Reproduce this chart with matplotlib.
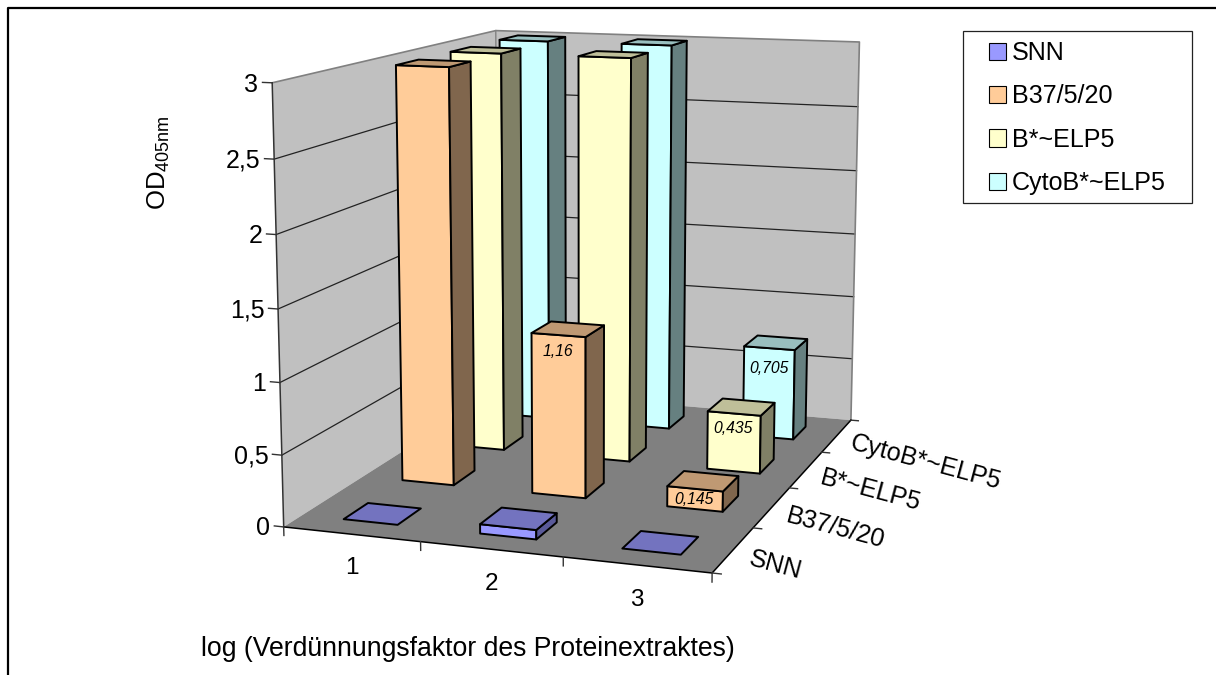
import numpy as np
import matplotlib
matplotlib.use("Agg")
import matplotlib.pyplot as plt
from matplotlib.patches import Patch, Rectangle
from matplotlib.lines import Line2D
from mpl_toolkits.mplot3d import proj3d
from mpl_toolkits.mplot3d.art3d import Poly3DCollection

plt.rcParams["font.family"] = ["Liberation Sans", "DejaVu Sans"]
plt.rcParams["mathtext.fontset"] = "custom"
plt.rcParams["mathtext.rm"] = "Liberation Sans"

categories = ["1", "2", "3"]
series = ["SNN", "B37/5/20", "B*~ELP5", "CytoB*~ELP5"]
snn = [0, 0.065, 0]
b37 = [3, 1.16, 0.145]
belp = [3, 3, 0.435]
cyto = [3, 3, 0.705]
z_ticks = [0, 0.5, 1, 1.5, 2, 2.5, 3]
z_labels = ["0", "0,5", "1", "1,5", "2", "2,5", "3"]
bar_labels = {(1, 1): "1,16", (1, 2): "0,145", (2, 2): "0,435", (3, 2): "0,705"}

front_cols = ["#9999FF", "#FFCC99", "#FFFFCC", "#CCFFFF"]
top_cols = ["#7373BF", "#BF9973", "#BFBF99", "#99BFBF"]
side_cols = ["#5A5A99", "#80664D", "#808066", "#668080"]

W, H = 1216, 675
fig = plt.figure(figsize=(W / 100, H / 100), dpi=100)

# camera fitted to the frame corners of the reference
side = 785.98
cx, cy = 579.99, 395.98
ax = fig.add_axes([(cx - side / 2) / W, (cy - side / 2) / H, side / W, side / H],
                  projection="3d", computed_zorder=False)
ax.set_xlim(0, 3, view_margin=0)
ax.set_ylim(0, 4, view_margin=0)
ax.set_zlim(0, 3, view_margin=0)
ax.set_axis_off()
ax.patch.set_alpha(0)
ax.set_proj_type("persp", focal_length=0.5445)
ax.view_init(10.9616, -71.1495, -0.0220)
ax.set_box_aspect((0.9987, 1.3383, 1))
M = ax.get_proj()


def label(x, y, z, text, **kw):
    px, py, _ = proj3d.proj_transform(x, y, z, M)
    ax.text2D(px, py, text, transform=ax.transData, **kw)


def face(pts, color, order, **kw):
    ax.add_collection3d(Poly3DCollection([pts], facecolor=color, zorder=order, **kw), autolim=False)


# walls and floor
face([(0, 0, 0), (0, 4, 0), (0, 4, 3), (0, 0, 3)], "#C0C0C0", 1, edgecolor="none")
face([(0, 4, 0), (3, 4, 0), (3, 4, 3), (0, 4, 3)], "#C0C0C0", 1, edgecolor="none")
face([(0, 0, 0), (3, 0, 0), (3, 4, 0), (0, 4, 0)], "#808080", 2, edgecolor="none")

for z in z_ticks[1:-1]:
    ax.plot([0, 0, 3], [0, 4, 4], [z, z, z], color="#222222", lw=0.9, zorder=3)
ax.plot([0, 0, 3, 3], [0, 4, 4, 4], [3, 3, 3, 0], color="#808080", lw=1.2, zorder=3)
ax.plot([0, 0], [4, 4], [0, 3], color="#808080", lw=1.0, zorder=3)
ax.plot([0, 0], [0, 0], [0, 3], color="#333333", lw=1.1, zorder=3)
ax.plot([0, 3, 3], [0, 0, 4], [0, 0, 0], color="black", lw=1.1, zorder=3)

# ticks
for z, lab in zip(z_ticks, z_labels):
    ax.plot([0, -0.07], [0, 0], [z, z], color="#333333", lw=1, zorder=3)
    label(-0.10, 0, z - 0.016, lab, fontsize=18, ha="right", va="center", zorder=60)
for i in range(len(categories) + 1):
    ax.plot([i, i], [0, 0], [0, -0.06], color="#333333", lw=1, zorder=3)
for i, lab in enumerate(categories):
    label(i + 0.5, 0, -0.235, lab, fontsize=17.5, ha="center", va="center", zorder=60)
for j in range(len(series) + 1):
    ax.plot([3, 3.06], [j, j], [0, 0], color="#333333", lw=1, zorder=3)
for j, lab in enumerate(series):
    label(3.11, j + 0.5, -0.045, lab, fontsize=18.2, ha="left", va="center", rotation=-15,
          rotation_mode="anchor", zorder=60)

# bars, back series first, left to right
values = [snn, b37, belp, cyto]
label_drop = {(1, 1): 0.12, (1, 2): 0.08, (2, 2): 0.12, (3, 2): 0.165}
width = 0.4
depth = 0.4
order = 10
for j in range(len(series) - 1, -1, -1):
    for i in range(len(categories)):
        v = values[j][i]
        x0, x1 = i + 0.5 - width / 2, i + 0.5 + width / 2
        y0, y1 = j + 0.5 - depth / 2, j + 0.5 + depth / 2
        style = dict(edgecolor="black", linewidths=1.4)
        if v > 0:
            face([(x0, y0, 0), (x1, y0, 0), (x1, y0, v), (x0, y0, v)], front_cols[j], order, **style)
            face([(x1, y0, 0), (x1, y1, 0), (x1, y1, v), (x1, y0, v)], side_cols[j], order, **style)
        face([(x0, y0, v), (x1, y0, v), (x1, y1, v), (x0, y1, v)], top_cols[j], order, **style)
        if (j, i) in bar_labels:
            label(i + 0.5, y0, v - label_drop[(j, i)], bar_labels[(j, i)], fontsize=11.3, style="italic",
                  ha="center", va="center", zorder=order + 1)
        order += 2

fig.text(159 / W, 1 - 162.5 / H, r"$\mathrm{OD}_{\mathrm{405nm}}$", fontsize=18.5, rotation=90, ha="center", va="center")
fig.text(468 / W, 1 - 649 / H, "log (Verdünnungsfaktor des Proteinextraktes)", fontsize=19.2, ha="center", va="center")

fig.add_artist(Rectangle((962.5 / W, 1 - 203 / H), 229 / W, 172 / H, transform=fig.transFigure,
                         facecolor="white", edgecolor="#222222", lw=0.9))
handles = [Patch(facecolor=c, edgecolor="black", lw=0.8) for c in front_cols]
leg = fig.legend(handles, series, loc="upper left", bbox_to_anchor=(989 / W, 1 - 41 / H), bbox_transform=fig.transFigure,
                 fontsize=18.1, frameon=False, borderaxespad=0, borderpad=0,
                 handlelength=0.68, handleheight=0.68, handletextpad=0.22, labelspacing=0.77)
leg.set_zorder(5)

fig.add_artist(Line2D([7.5 / W, 7.5 / W, 1], [0, 1 - 7.5 / H, 1 - 7.5 / H], color="black", lw=1.6))

fig.savefig("out.png", dpi=100)
